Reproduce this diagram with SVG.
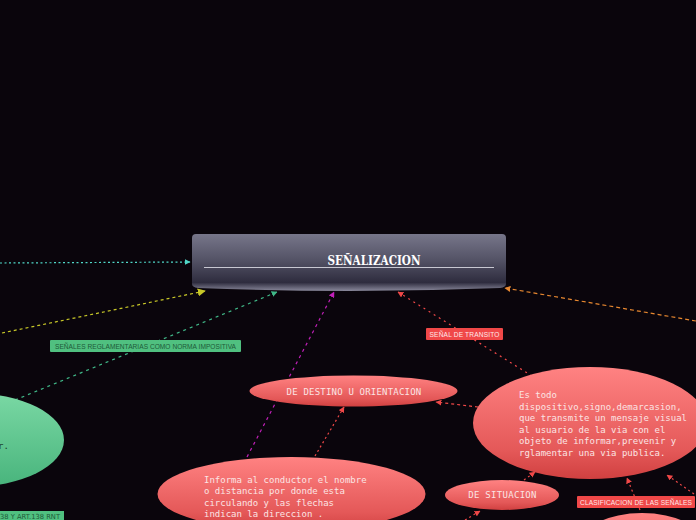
<svg xmlns="http://www.w3.org/2000/svg" width="696" height="520" viewBox="0 0 696 520">
<style>
.mono{font-family:"DejaVu Sans Mono","Liberation Mono",monospace;font-size:9px;fill:#fbe4e4}
.lbl{font-family:"Liberation Sans","DejaVu Sans",sans-serif;font-size:6.6px}
.c{fill:none;stroke-width:1.2}
</style>
<defs>
<linearGradient id="gc" x1="0" y1="0" x2="0" y2="1">
<stop offset="0" stop-color="#77768a"/>
<stop offset="0.45" stop-color="#545366"/>
<stop offset="0.85" stop-color="#2e2c3e"/>
<stop offset="1" stop-color="#8a899c"/>
</linearGradient>
<linearGradient id="gr" x1="0" y1="0" x2="0" y2="1">
<stop offset="0" stop-color="#ff8282"/>
<stop offset="0.75" stop-color="#e45858"/>
<stop offset="1" stop-color="#d04040"/>
</linearGradient>
<linearGradient id="gg" x1="0" y1="0" x2="0" y2="1">
<stop offset="0" stop-color="#7ad8a4"/>
<stop offset="1" stop-color="#48b47c"/>
</linearGradient>
<marker id="ar-r" viewBox="0 0 10 10" refX="9" refY="5" markerWidth="6" markerHeight="6" orient="auto" markerUnits="userSpaceOnUse"><path d="M0,0L10,5L0,10z" fill="#f04848"/></marker>
<marker id="ar-c" viewBox="0 0 10 10" refX="9" refY="5" markerWidth="6" markerHeight="6" orient="auto" markerUnits="userSpaceOnUse"><path d="M0,0L10,5L0,10z" fill="#50d8c8"/></marker>
<marker id="ar-y" viewBox="0 0 10 10" refX="9" refY="5" markerWidth="8" markerHeight="8" orient="auto" markerUnits="userSpaceOnUse"><path d="M0,0L10,5L0,10z" fill="#c8c828"/></marker>
<marker id="ar-g" viewBox="0 0 10 10" refX="9" refY="5" markerWidth="6" markerHeight="6" orient="auto" markerUnits="userSpaceOnUse"><path d="M0,0L10,5L0,10z" fill="#40b888"/></marker>
<marker id="ar-m" viewBox="0 0 10 10" refX="9" refY="5" markerWidth="6" markerHeight="6" orient="auto" markerUnits="userSpaceOnUse"><path d="M0,0L10,5L0,10z" fill="#c020b8"/></marker>
<marker id="ar-o" viewBox="0 0 10 10" refX="9" refY="5" markerWidth="6" markerHeight="6" orient="auto" markerUnits="userSpaceOnUse"><path d="M0,0L10,5L0,10z" fill="#e88830"/></marker>
</defs>
<rect width="696" height="520" fill="#0a050c"/>
<g id="connectors">
<path class="c" d="M0,263L190,262" stroke="#50d8c8" stroke-dasharray="2,2.5" marker-end="url(#ar-c)"/>
<path class="c" d="M2,333L205,291" stroke="#c8c828" stroke-dasharray="3,3" marker-end="url(#ar-y)"/>
<path class="c" d="M15,400L277,292" stroke="#40b888" stroke-dasharray="3,4" marker-end="url(#ar-g)"/>
<path class="c" d="M247,457L334,292" stroke="#c020b8" stroke-dasharray="3,4" marker-end="url(#ar-m)"/>
<path class="c" d="M532,376L398,292" stroke="#f04848" stroke-dasharray="2,4" marker-end="url(#ar-r)"/>
<path class="c" d="M696,321L505,288" stroke="#e88830" stroke-dasharray="4,3" marker-end="url(#ar-o)"/>
<path class="c" d="M478,407L436,402" stroke="#f04848" stroke-dasharray="3,3" marker-end="url(#ar-r)"/>
<path class="c" d="M315,456L344,407" stroke="#f04848" stroke-dasharray="2,3" marker-end="url(#ar-r)"/>
<path class="c" d="M524,480L535,472" stroke="#f04848" stroke-dasharray="2,3" marker-end="url(#ar-r)"/>
<path class="c" d="M465,520L480,511" stroke="#f04848" stroke-dasharray="2,3" marker-end="url(#ar-r)"/>
<path class="c" d="M640,510L627,478" stroke="#f04848" stroke-dasharray="2,3" marker-end="url(#ar-r)"/>
<path class="c" d="M694,494L667,475" stroke="#f04848" stroke-dasharray="2,3" marker-end="url(#ar-r)"/>
</g>
<g id="label-reglamentarias">
<rect x="50" y="340" width="191" height="12" rx="1" fill="#50c080"/>
<text class="lbl" x="145.5" y="348.5" text-anchor="middle" fill="#1e5a38" textLength="181">SEÑALES REGLAMENTARIAS COMO NORMA IMPOSITIVA</text>
</g>
<g id="label-transito">
<rect x="426" y="328" width="77" height="12" rx="1" fill="#f04848"/>
<text class="lbl" x="464.5" y="336.5" text-anchor="middle" fill="#ffe8e8" textLength="70">SEÑAL DE TRANSITO</text>
</g>
<g id="node-central">
<path d="M196,234H502Q506,234 506,238V284Q506,287 500,288Q349,294 198,288Q192,287 192,284V238Q192,234 196,234Z" fill="url(#gc)"/>
<line x1="204" y1="267.5" x2="494" y2="267.5" stroke="#c8c8d2" stroke-width="1.2"/>
<text x="374" y="265" text-anchor="middle" font-family="'DejaVu Serif','Liberation Serif',serif" font-weight="bold" font-size="13" fill="#ffffff" textLength="93" lengthAdjust="spacingAndGlyphs">SEÑALIZACION</text>
</g>
<g id="node-green">
<ellipse cx="-30" cy="440" rx="94" ry="47" fill="url(#gg)"/>
<text x="-2" y="449" font-family="'DejaVu Sans Mono',monospace" font-size="9" fill="#1e3a28">r.</text>
</g>
<g id="label-art">
<rect x="0" y="511" width="64" height="11" fill="#50c080"/>
<text x="0" y="519" font-family="'DejaVu Sans',sans-serif" font-size="7" fill="#1e5a38" textLength="60" lengthAdjust="spacingAndGlyphs">38 Y ART.138 RNT</text>
</g>
<g id="node-destino">
<ellipse cx="353.5" cy="391" rx="104" ry="15.5" fill="url(#gr)"/>
<text class="mono" x="354" y="394.5" text-anchor="middle" letter-spacing="0.2">DE DESTINO U ORIENTACION</text>
</g>
<g id="node-estodo">
<ellipse cx="590" cy="423" rx="117" ry="56" fill="url(#gr)"/>
<text class="mono" x="519" y="398">Es todo</text>
<text class="mono" x="519" y="409.5">dispositivo,signo,demarcasion,</text>
<text class="mono" x="519" y="421">que transmite un mensaje visual</text>
<text class="mono" x="519" y="432.5">al usuario de la via con el</text>
<text class="mono" x="519" y="444">objeto de informar,prevenir y</text>
<text class="mono" x="519" y="455.5">rglamentar una via publica.</text>
</g>
<g id="node-informa">
<ellipse cx="291.5" cy="494" rx="134" ry="37" fill="url(#gr)"/>
<text class="mono" x="204" y="482.5">Informa al conductor el nombre</text>
<text class="mono" x="204" y="494">o distancia por donde esta</text>
<text class="mono" x="204" y="505.5">circulando y las flechas</text>
<text class="mono" x="204" y="517">indican la direccion .</text>
</g>
<g id="node-situacion">
<ellipse cx="502" cy="495" rx="57" ry="15" fill="url(#gr)"/>
<text class="mono" x="502.5" y="498" text-anchor="middle" letter-spacing="0.3">DE SITUACION</text>
</g>
<g id="label-clasificacion">
<rect x="577" y="496" width="118" height="12" rx="1" fill="#f04848"/>
<text class="lbl" x="636" y="504.5" text-anchor="middle" fill="#ffe8e8" textLength="112">CLASIFICACION DE LAS SEÑALES</text>
</g>
<g id="node-bottom-right">
<ellipse cx="642" cy="545" rx="62" ry="32" fill="url(#gr)"/>
</g>
</svg>
